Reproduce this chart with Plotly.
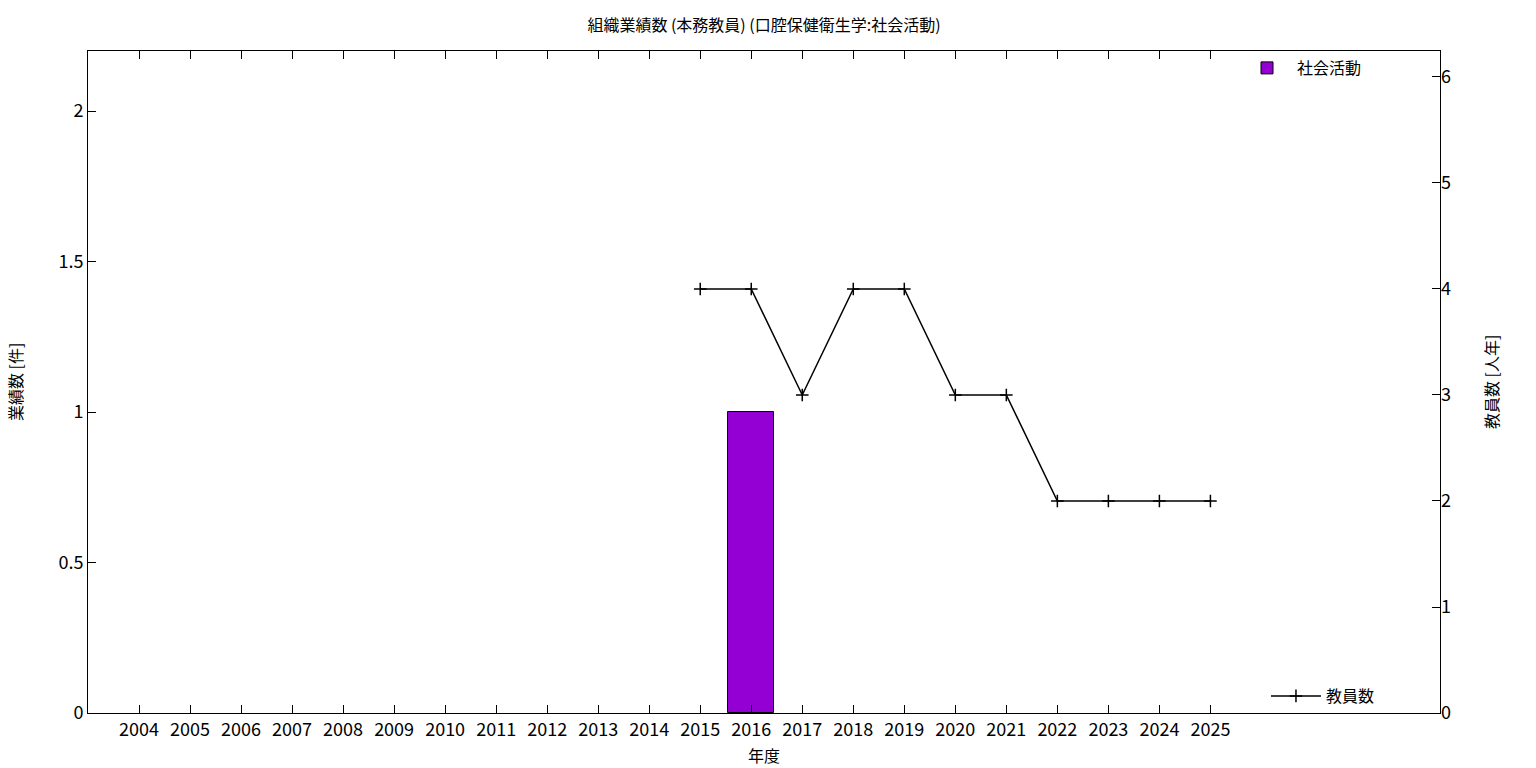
import plotly.graph_objects as go

years = list(range(2004, 2026))
bar_years = [2016]
bar_values = [1]
line_years = [2015, 2016, 2017, 2018, 2019, 2020, 2021, 2022, 2023, 2024, 2025]
line_values = [4, 4, 3, 4, 4, 3, 3, 2, 2, 2, 2]

FONT = "Noto Sans CJK JP"

fig = go.Figure()
fig.add_trace(go.Bar(
    x=bar_years, y=bar_values, width=0.9, name="社会活動",
    marker=dict(color="#9400d3", line=dict(color="black", width=1)),
    legend="legend", yaxis="y",
))
fig.add_trace(go.Scatter(
    x=line_years, y=line_values, name="教員数", mode="lines+markers",
    line=dict(color="black", width=1.5),
    marker=dict(symbol="cross-thin", size=9, line=dict(color="black", width=1.5), color="black"),
    legend="legend2", yaxis="y2",
))

W, H = 1536, 768
L, R, T, B = 88, 96, 51, 55
PW = W - L - R
PH = H - T - B
# plot area in screen pixels: x 88..1440, y 51..713

def px_x(x):
    return (x - L) / PW

def px_y(y):
    return (H - B - y) / PH

fig.update_layout(
    width=W, height=H,
    paper_bgcolor="white", plot_bgcolor="white",
    margin=dict(l=L, r=R, t=T, b=B, autoexpand=False),
    font=dict(family=FONT, size=17, color="black"),
    title=dict(text="組織業績数 (本務教員) (口腔保健衛生学:社会活動)", x=0.5, xanchor="center", xref="paper",
               y=1 - 25 / H, yanchor="middle", yref="container",
               font=dict(size=16, family=FONT)),
    showlegend=True,
    bargap=0,
    xaxis=dict(
        range=[2003, 2029.5], tickmode="array", tickvals=years, ticktext=[str(y) for y in years],
        ticks="inside", ticklen=8, tickcolor="black", showline=True, linecolor="black", linewidth=1,
        mirror="ticks", showgrid=False, zeroline=False, automargin=False,
        tickfont=dict(size=18),
    ),
    yaxis=dict(
        range=[0, 2.2], tickvals=[0, 0.5, 1, 1.5, 2], ticktext=["0", "0.5", "1", "1.5", "2"],
        ticks="inside", ticklen=8, tickcolor="black", showline=True, linecolor="black", linewidth=1,
        mirror=True, showgrid=False, zeroline=False, automargin=False,
        tickfont=dict(size=18),
    ),
    yaxis2=dict(
        range=[0, 6.245], tickvals=[0, 1, 2, 3, 4, 5, 6], overlaying="y", side="right",
        ticks="inside", ticklen=8, tickcolor="black", showline=False, showgrid=False, zeroline=False,
        automargin=False,
        tickfont=dict(size=18),
    ),
    legend=dict(x=px_x(1237), y=1.0, xanchor="left", yanchor="top",
                bgcolor="rgba(0,0,0,0)", font=dict(size=16), itemwidth=50),
    legend2=dict(x=px_x(1268) - 0.0015, y=0.0, xanchor="left", yanchor="bottom",
                 bgcolor="rgba(0,0,0,0)", font=dict(size=16), itemwidth=50),
    annotations=[
        dict(text="年度", xref="paper", yref="paper", x=px_x(764), y=px_y(755),
             xanchor="center", yanchor="middle", showarrow=False, font=dict(size=16)),
        dict(text="業績数 [件]", xref="paper", yref="paper", x=px_x(15), y=px_y(382),
             xanchor="center", yanchor="middle", textangle=-90, showarrow=False, font=dict(size=16)),
        dict(text="教員数 [人年]", xref="paper", yref="paper", x=px_x(1491), y=px_y(382),
             xanchor="center", yanchor="middle", textangle=-90, showarrow=False, font=dict(size=16)),
    ],
)

fig.write_html("out.html", config={"displayModeBar": False},
               post_script="document.body.style.margin='0';")
